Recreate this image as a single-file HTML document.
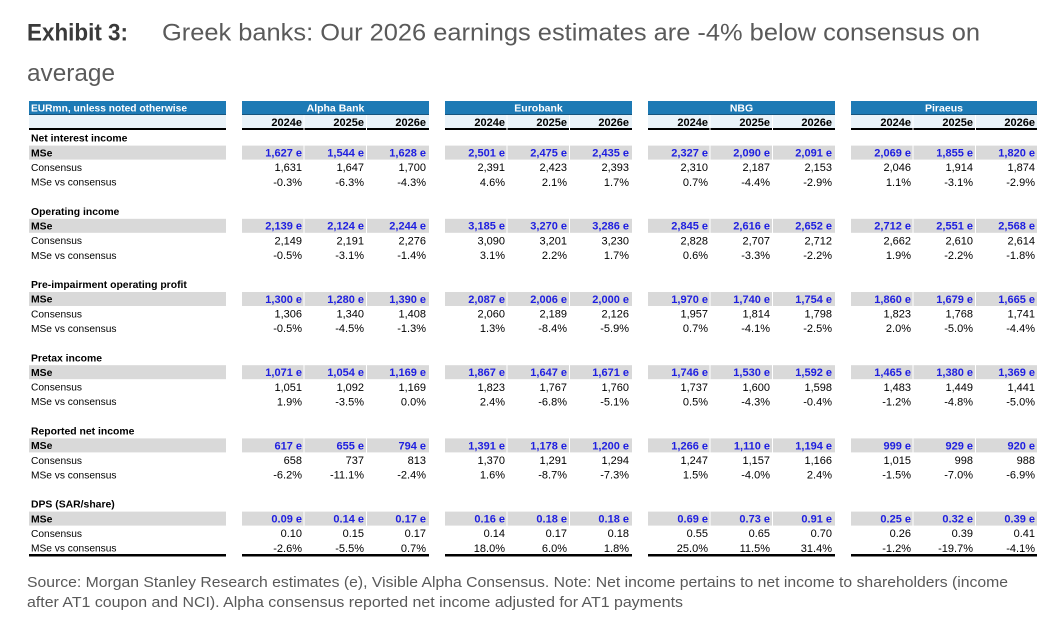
<!DOCTYPE html>
<html>
<head>
<meta charset="utf-8">
<style>
html,body{margin:0;padding:0;background:#fff;}
svg{display:block;}
text{font-family:"Liberation Sans",Arial,sans-serif;}
.t{font-size:10.2px;fill:#000;}
.lb{font-size:10.4px;fill:#000;font-weight:bold;}
.hd{font-size:10.5px;fill:#fff;font-weight:bold;text-anchor:middle;}
.yr{font-size:11px;fill:#000;font-weight:bold;text-anchor:end;}
.ms{font-size:11px;fill:#1e1ee0;font-weight:bold;text-anchor:end;}
.n{font-size:11px;fill:#000;text-anchor:end;}
.g{fill:#d9d9d9;}
.bl{fill:#1d7ab5;}
.dk{fill:#17557e;}
.ly{fill:#eaf3f9;}
.k{fill:#000;}
</style>
</head>
<body>
<svg width="1064" height="639" viewBox="0 0 1064 639" xmlns="http://www.w3.org/2000/svg">
<!-- Title -->
<text x="27" y="40.5" font-size="24" font-weight="bold" fill="#3a3a3a" textLength="101" lengthAdjust="spacingAndGlyphs">Exhibit 3:</text>
<text x="162" y="40.5" font-size="24" fill="#5a5a5a" textLength="818" lengthAdjust="spacingAndGlyphs">Greek banks: Our 2026 earnings estimates are -4% below consensus on</text>
<text x="27" y="81" font-size="24" fill="#5a5a5a" textLength="88" lengthAdjust="spacingAndGlyphs">average</text>

<!-- Left label column -->
<g>
<rect x="29" y="101" width="197" height="13" class="bl"/>
<rect x="29" y="114" width="197" height="1" class="dk"/>
<rect x="29" y="115" width="197" height="13" class="ly"/>
<rect x="29" y="128" width="197" height="2" class="k"/>
<text x="31" y="111.5" font-size="10.5" font-weight="bold" fill="#fff" textLength="156" lengthAdjust="spacingAndGlyphs">EURmn, unless noted otherwise</text>
<rect x="29" y="145.6" width="197" height="14" class="g"/>
<rect x="29" y="218.8" width="197" height="14" class="g"/>
<rect x="29" y="292" width="197" height="14" class="g"/>
<rect x="29" y="365.2" width="197" height="14" class="g"/>
<rect x="29" y="438.4" width="197" height="14" class="g"/>
<rect x="29" y="511.6" width="197" height="14" class="g"/>
<rect x="29" y="554" width="197" height="2.5" class="k"/>

<text x="31" y="141.7" class="lb">Net interest income</text>
<text x="31" y="156.3" class="lb">MSe</text>
<text x="31" y="171" class="t">Consensus</text>
<text x="31" y="185.6" class="t">MSe vs consensus</text>

<text x="31" y="214.9" class="lb">Operating income</text>
<text x="31" y="229.5" class="lb">MSe</text>
<text x="31" y="244.2" class="t">Consensus</text>
<text x="31" y="258.8" class="t">MSe vs consensus</text>

<text x="31" y="288.1" class="lb">Pre-impairment operating profit</text>
<text x="31" y="302.7" class="lb">MSe</text>
<text x="31" y="317.4" class="t">Consensus</text>
<text x="31" y="332" class="t">MSe vs consensus</text>

<text x="31" y="361.3" class="lb">Pretax income</text>
<text x="31" y="375.9" class="lb">MSe</text>
<text x="31" y="390.6" class="t">Consensus</text>
<text x="31" y="405.2" class="t">MSe vs consensus</text>

<text x="31" y="434.5" class="lb">Reported net income</text>
<text x="31" y="449.1" class="lb">MSe</text>
<text x="31" y="463.8" class="t">Consensus</text>
<text x="31" y="478.4" class="t">MSe vs consensus</text>

<text x="31" y="507.7" class="lb">DPS (SAR/share)</text>
<text x="31" y="522.3" class="lb">MSe</text>
<text x="31" y="537" class="t">Consensus</text>
<text x="31" y="551.6" class="t">MSe vs consensus</text>
</g>

<!-- Alpha Bank -->
<g transform="translate(242,0)">
<rect x="0" y="101" width="187" height="13" class="bl"/>
<rect x="0" y="114" width="187" height="1" class="dk"/>
<rect x="0" y="115" width="61.5" height="13" class="ly"/><rect x="62.5" y="115" width="61.5" height="13" class="ly"/><rect x="125" y="115" width="62" height="13" class="ly"/>
<rect x="0" y="128" width="61.5" height="2" class="k"/><rect x="62.5" y="128" width="61.5" height="2" class="k"/><rect x="125" y="128" width="62" height="2" class="k"/>
<text x="93.5" y="111.5" class="hd">Alpha Bank</text>
<text y="125.8" class="yr"><tspan x="60">2024e</tspan><tspan x="122">2025e</tspan><tspan x="184">2026e</tspan></text>
<g class="g">
<rect x="0" y="145.6" width="61.5" height="14"/><rect x="62.5" y="145.6" width="61.5" height="14"/><rect x="125" y="145.6" width="62" height="14"/>
<rect x="0" y="218.8" width="61.5" height="14"/><rect x="62.5" y="218.8" width="61.5" height="14"/><rect x="125" y="218.8" width="62" height="14"/>
<rect x="0" y="292" width="61.5" height="14"/><rect x="62.5" y="292" width="61.5" height="14"/><rect x="125" y="292" width="62" height="14"/>
<rect x="0" y="365.2" width="61.5" height="14"/><rect x="62.5" y="365.2" width="61.5" height="14"/><rect x="125" y="365.2" width="62" height="14"/>
<rect x="0" y="438.4" width="61.5" height="14"/><rect x="62.5" y="438.4" width="61.5" height="14"/><rect x="125" y="438.4" width="62" height="14"/>
<rect x="0" y="511.6" width="61.5" height="14"/><rect x="62.5" y="511.6" width="61.5" height="14"/><rect x="125" y="511.6" width="62" height="14"/>
</g>
<rect x="0" y="554" width="187" height="2.5" class="k"/>
<text y="156.5" class="ms"><tspan x="60">1,627 e</tspan><tspan x="122">1,544 e</tspan><tspan x="184">1,628 e</tspan></text>
<text y="171.2" class="n"><tspan x="60">1,631</tspan><tspan x="122">1,647</tspan><tspan x="184">1,700</tspan></text>
<text y="185.8" class="n"><tspan x="60">-0.3%</tspan><tspan x="122">-6.3%</tspan><tspan x="184">-4.3%</tspan></text>
<text y="229.7" class="ms"><tspan x="60">2,139 e</tspan><tspan x="122">2,124 e</tspan><tspan x="184">2,244 e</tspan></text>
<text y="244.4" class="n"><tspan x="60">2,149</tspan><tspan x="122">2,191</tspan><tspan x="184">2,276</tspan></text>
<text y="259" class="n"><tspan x="60">-0.5%</tspan><tspan x="122">-3.1%</tspan><tspan x="184">-1.4%</tspan></text>
<text y="302.9" class="ms"><tspan x="60">1,300 e</tspan><tspan x="122">1,280 e</tspan><tspan x="184">1,390 e</tspan></text>
<text y="317.6" class="n"><tspan x="60">1,306</tspan><tspan x="122">1,340</tspan><tspan x="184">1,408</tspan></text>
<text y="332.2" class="n"><tspan x="60">-0.5%</tspan><tspan x="122">-4.5%</tspan><tspan x="184">-1.3%</tspan></text>
<text y="376.1" class="ms"><tspan x="60">1,071 e</tspan><tspan x="122">1,054 e</tspan><tspan x="184">1,169 e</tspan></text>
<text y="390.8" class="n"><tspan x="60">1,051</tspan><tspan x="122">1,092</tspan><tspan x="184">1,169</tspan></text>
<text y="405.4" class="n"><tspan x="60">1.9%</tspan><tspan x="122">-3.5%</tspan><tspan x="184">0.0%</tspan></text>
<text y="449.3" class="ms"><tspan x="60">617 e</tspan><tspan x="122">655 e</tspan><tspan x="184">794 e</tspan></text>
<text y="464" class="n"><tspan x="60">658</tspan><tspan x="122">737</tspan><tspan x="184">813</tspan></text>
<text y="478.6" class="n"><tspan x="60">-6.2%</tspan><tspan x="122">-11.1%</tspan><tspan x="184">-2.4%</tspan></text>
<text y="522.5" class="ms"><tspan x="60">0.09 e</tspan><tspan x="122">0.14 e</tspan><tspan x="184">0.17 e</tspan></text>
<text y="537.2" class="n"><tspan x="60">0.10</tspan><tspan x="122">0.15</tspan><tspan x="184">0.17</tspan></text>
<text y="551.8" class="n"><tspan x="60">-2.6%</tspan><tspan x="122">-5.5%</tspan><tspan x="184">0.7%</tspan></text>
</g>

<!-- Eurobank -->
<g transform="translate(445,0)">
<rect x="0" y="101" width="187" height="13" class="bl"/>
<rect x="0" y="114" width="187" height="1" class="dk"/>
<rect x="0" y="115" width="61.5" height="13" class="ly"/><rect x="62.5" y="115" width="61.5" height="13" class="ly"/><rect x="125" y="115" width="62" height="13" class="ly"/>
<rect x="0" y="128" width="61.5" height="2" class="k"/><rect x="62.5" y="128" width="61.5" height="2" class="k"/><rect x="125" y="128" width="62" height="2" class="k"/>
<text x="93.5" y="111.5" class="hd">Eurobank</text>
<text y="125.8" class="yr"><tspan x="60">2024e</tspan><tspan x="122">2025e</tspan><tspan x="184">2026e</tspan></text>
<g class="g">
<rect x="0" y="145.6" width="61.5" height="14"/><rect x="62.5" y="145.6" width="61.5" height="14"/><rect x="125" y="145.6" width="62" height="14"/>
<rect x="0" y="218.8" width="61.5" height="14"/><rect x="62.5" y="218.8" width="61.5" height="14"/><rect x="125" y="218.8" width="62" height="14"/>
<rect x="0" y="292" width="61.5" height="14"/><rect x="62.5" y="292" width="61.5" height="14"/><rect x="125" y="292" width="62" height="14"/>
<rect x="0" y="365.2" width="61.5" height="14"/><rect x="62.5" y="365.2" width="61.5" height="14"/><rect x="125" y="365.2" width="62" height="14"/>
<rect x="0" y="438.4" width="61.5" height="14"/><rect x="62.5" y="438.4" width="61.5" height="14"/><rect x="125" y="438.4" width="62" height="14"/>
<rect x="0" y="511.6" width="61.5" height="14"/><rect x="62.5" y="511.6" width="61.5" height="14"/><rect x="125" y="511.6" width="62" height="14"/>
</g>
<rect x="0" y="554" width="187" height="2.5" class="k"/>
<text y="156.5" class="ms"><tspan x="60">2,501 e</tspan><tspan x="122">2,475 e</tspan><tspan x="184">2,435 e</tspan></text>
<text y="171.2" class="n"><tspan x="60">2,391</tspan><tspan x="122">2,423</tspan><tspan x="184">2,393</tspan></text>
<text y="185.8" class="n"><tspan x="60">4.6%</tspan><tspan x="122">2.1%</tspan><tspan x="184">1.7%</tspan></text>
<text y="229.7" class="ms"><tspan x="60">3,185 e</tspan><tspan x="122">3,270 e</tspan><tspan x="184">3,286 e</tspan></text>
<text y="244.4" class="n"><tspan x="60">3,090</tspan><tspan x="122">3,201</tspan><tspan x="184">3,230</tspan></text>
<text y="259" class="n"><tspan x="60">3.1%</tspan><tspan x="122">2.2%</tspan><tspan x="184">1.7%</tspan></text>
<text y="302.9" class="ms"><tspan x="60">2,087 e</tspan><tspan x="122">2,006 e</tspan><tspan x="184">2,000 e</tspan></text>
<text y="317.6" class="n"><tspan x="60">2,060</tspan><tspan x="122">2,189</tspan><tspan x="184">2,126</tspan></text>
<text y="332.2" class="n"><tspan x="60">1.3%</tspan><tspan x="122">-8.4%</tspan><tspan x="184">-5.9%</tspan></text>
<text y="376.1" class="ms"><tspan x="60">1,867 e</tspan><tspan x="122">1,647 e</tspan><tspan x="184">1,671 e</tspan></text>
<text y="390.8" class="n"><tspan x="60">1,823</tspan><tspan x="122">1,767</tspan><tspan x="184">1,760</tspan></text>
<text y="405.4" class="n"><tspan x="60">2.4%</tspan><tspan x="122">-6.8%</tspan><tspan x="184">-5.1%</tspan></text>
<text y="449.3" class="ms"><tspan x="60">1,391 e</tspan><tspan x="122">1,178 e</tspan><tspan x="184">1,200 e</tspan></text>
<text y="464" class="n"><tspan x="60">1,370</tspan><tspan x="122">1,291</tspan><tspan x="184">1,294</tspan></text>
<text y="478.6" class="n"><tspan x="60">1.6%</tspan><tspan x="122">-8.7%</tspan><tspan x="184">-7.3%</tspan></text>
<text y="522.5" class="ms"><tspan x="60">0.16 e</tspan><tspan x="122">0.18 e</tspan><tspan x="184">0.18 e</tspan></text>
<text y="537.2" class="n"><tspan x="60">0.14</tspan><tspan x="122">0.17</tspan><tspan x="184">0.18</tspan></text>
<text y="551.8" class="n"><tspan x="60">18.0%</tspan><tspan x="122">6.0%</tspan><tspan x="184">1.8%</tspan></text>
</g>

<!-- NBG -->
<g transform="translate(648,0)">
<rect x="0" y="101" width="187" height="13" class="bl"/>
<rect x="0" y="114" width="187" height="1" class="dk"/>
<rect x="0" y="115" width="61.5" height="13" class="ly"/><rect x="62.5" y="115" width="61.5" height="13" class="ly"/><rect x="125" y="115" width="62" height="13" class="ly"/>
<rect x="0" y="128" width="61.5" height="2" class="k"/><rect x="62.5" y="128" width="61.5" height="2" class="k"/><rect x="125" y="128" width="62" height="2" class="k"/>
<text x="93.5" y="111.5" class="hd">NBG</text>
<text y="125.8" class="yr"><tspan x="60">2024e</tspan><tspan x="122">2025e</tspan><tspan x="184">2026e</tspan></text>
<g class="g">
<rect x="0" y="145.6" width="61.5" height="14"/><rect x="62.5" y="145.6" width="61.5" height="14"/><rect x="125" y="145.6" width="62" height="14"/>
<rect x="0" y="218.8" width="61.5" height="14"/><rect x="62.5" y="218.8" width="61.5" height="14"/><rect x="125" y="218.8" width="62" height="14"/>
<rect x="0" y="292" width="61.5" height="14"/><rect x="62.5" y="292" width="61.5" height="14"/><rect x="125" y="292" width="62" height="14"/>
<rect x="0" y="365.2" width="61.5" height="14"/><rect x="62.5" y="365.2" width="61.5" height="14"/><rect x="125" y="365.2" width="62" height="14"/>
<rect x="0" y="438.4" width="61.5" height="14"/><rect x="62.5" y="438.4" width="61.5" height="14"/><rect x="125" y="438.4" width="62" height="14"/>
<rect x="0" y="511.6" width="61.5" height="14"/><rect x="62.5" y="511.6" width="61.5" height="14"/><rect x="125" y="511.6" width="62" height="14"/>
</g>
<rect x="0" y="554" width="187" height="2.5" class="k"/>
<text y="156.5" class="ms"><tspan x="60">2,327 e</tspan><tspan x="122">2,090 e</tspan><tspan x="184">2,091 e</tspan></text>
<text y="171.2" class="n"><tspan x="60">2,310</tspan><tspan x="122">2,187</tspan><tspan x="184">2,153</tspan></text>
<text y="185.8" class="n"><tspan x="60">0.7%</tspan><tspan x="122">-4.4%</tspan><tspan x="184">-2.9%</tspan></text>
<text y="229.7" class="ms"><tspan x="60">2,845 e</tspan><tspan x="122">2,616 e</tspan><tspan x="184">2,652 e</tspan></text>
<text y="244.4" class="n"><tspan x="60">2,828</tspan><tspan x="122">2,707</tspan><tspan x="184">2,712</tspan></text>
<text y="259" class="n"><tspan x="60">0.6%</tspan><tspan x="122">-3.3%</tspan><tspan x="184">-2.2%</tspan></text>
<text y="302.9" class="ms"><tspan x="60">1,970 e</tspan><tspan x="122">1,740 e</tspan><tspan x="184">1,754 e</tspan></text>
<text y="317.6" class="n"><tspan x="60">1,957</tspan><tspan x="122">1,814</tspan><tspan x="184">1,798</tspan></text>
<text y="332.2" class="n"><tspan x="60">0.7%</tspan><tspan x="122">-4.1%</tspan><tspan x="184">-2.5%</tspan></text>
<text y="376.1" class="ms"><tspan x="60">1,746 e</tspan><tspan x="122">1,530 e</tspan><tspan x="184">1,592 e</tspan></text>
<text y="390.8" class="n"><tspan x="60">1,737</tspan><tspan x="122">1,600</tspan><tspan x="184">1,598</tspan></text>
<text y="405.4" class="n"><tspan x="60">0.5%</tspan><tspan x="122">-4.3%</tspan><tspan x="184">-0.4%</tspan></text>
<text y="449.3" class="ms"><tspan x="60">1,266 e</tspan><tspan x="122">1,110 e</tspan><tspan x="184">1,194 e</tspan></text>
<text y="464" class="n"><tspan x="60">1,247</tspan><tspan x="122">1,157</tspan><tspan x="184">1,166</tspan></text>
<text y="478.6" class="n"><tspan x="60">1.5%</tspan><tspan x="122">-4.0%</tspan><tspan x="184">2.4%</tspan></text>
<text y="522.5" class="ms"><tspan x="60">0.69 e</tspan><tspan x="122">0.73 e</tspan><tspan x="184">0.91 e</tspan></text>
<text y="537.2" class="n"><tspan x="60">0.55</tspan><tspan x="122">0.65</tspan><tspan x="184">0.70</tspan></text>
<text y="551.8" class="n"><tspan x="60">25.0%</tspan><tspan x="122">11.5%</tspan><tspan x="184">31.4%</tspan></text>
</g>

<!-- Piraeus -->
<g transform="translate(851,0)">
<rect x="0" y="101" width="186" height="13" class="bl"/>
<rect x="0" y="114" width="186" height="1" class="dk"/>
<rect x="0" y="115" width="61.5" height="13" class="ly"/><rect x="62.5" y="115" width="61.5" height="13" class="ly"/><rect x="125" y="115" width="61" height="13" class="ly"/>
<rect x="0" y="128" width="61.5" height="2" class="k"/><rect x="62.5" y="128" width="61.5" height="2" class="k"/><rect x="125" y="128" width="61" height="2" class="k"/>
<text x="93" y="111.5" class="hd">Piraeus</text>
<text y="125.8" class="yr"><tspan x="60">2024e</tspan><tspan x="122">2025e</tspan><tspan x="184">2026e</tspan></text>
<g class="g">
<rect x="0" y="145.6" width="61.5" height="14"/><rect x="62.5" y="145.6" width="61.5" height="14"/><rect x="125" y="145.6" width="61" height="14"/>
<rect x="0" y="218.8" width="61.5" height="14"/><rect x="62.5" y="218.8" width="61.5" height="14"/><rect x="125" y="218.8" width="61" height="14"/>
<rect x="0" y="292" width="61.5" height="14"/><rect x="62.5" y="292" width="61.5" height="14"/><rect x="125" y="292" width="61" height="14"/>
<rect x="0" y="365.2" width="61.5" height="14"/><rect x="62.5" y="365.2" width="61.5" height="14"/><rect x="125" y="365.2" width="61" height="14"/>
<rect x="0" y="438.4" width="61.5" height="14"/><rect x="62.5" y="438.4" width="61.5" height="14"/><rect x="125" y="438.4" width="61" height="14"/>
<rect x="0" y="511.6" width="61.5" height="14"/><rect x="62.5" y="511.6" width="61.5" height="14"/><rect x="125" y="511.6" width="61" height="14"/>
</g>
<rect x="0" y="554" width="186" height="2.5" class="k"/>
<text y="156.5" class="ms"><tspan x="60">2,069 e</tspan><tspan x="122">1,855 e</tspan><tspan x="184">1,820 e</tspan></text>
<text y="171.2" class="n"><tspan x="60">2,046</tspan><tspan x="122">1,914</tspan><tspan x="184">1,874</tspan></text>
<text y="185.8" class="n"><tspan x="60">1.1%</tspan><tspan x="122">-3.1%</tspan><tspan x="184">-2.9%</tspan></text>
<text y="229.7" class="ms"><tspan x="60">2,712 e</tspan><tspan x="122">2,551 e</tspan><tspan x="184">2,568 e</tspan></text>
<text y="244.4" class="n"><tspan x="60">2,662</tspan><tspan x="122">2,610</tspan><tspan x="184">2,614</tspan></text>
<text y="259" class="n"><tspan x="60">1.9%</tspan><tspan x="122">-2.2%</tspan><tspan x="184">-1.8%</tspan></text>
<text y="302.9" class="ms"><tspan x="60">1,860 e</tspan><tspan x="122">1,679 e</tspan><tspan x="184">1,665 e</tspan></text>
<text y="317.6" class="n"><tspan x="60">1,823</tspan><tspan x="122">1,768</tspan><tspan x="184">1,741</tspan></text>
<text y="332.2" class="n"><tspan x="60">2.0%</tspan><tspan x="122">-5.0%</tspan><tspan x="184">-4.4%</tspan></text>
<text y="376.1" class="ms"><tspan x="60">1,465 e</tspan><tspan x="122">1,380 e</tspan><tspan x="184">1,369 e</tspan></text>
<text y="390.8" class="n"><tspan x="60">1,483</tspan><tspan x="122">1,449</tspan><tspan x="184">1,441</tspan></text>
<text y="405.4" class="n"><tspan x="60">-1.2%</tspan><tspan x="122">-4.8%</tspan><tspan x="184">-5.0%</tspan></text>
<text y="449.3" class="ms"><tspan x="60">999 e</tspan><tspan x="122">929 e</tspan><tspan x="184">920 e</tspan></text>
<text y="464" class="n"><tspan x="60">1,015</tspan><tspan x="122">998</tspan><tspan x="184">988</tspan></text>
<text y="478.6" class="n"><tspan x="60">-1.5%</tspan><tspan x="122">-7.0%</tspan><tspan x="184">-6.9%</tspan></text>
<text y="522.5" class="ms"><tspan x="60">0.25 e</tspan><tspan x="122">0.32 e</tspan><tspan x="184">0.39 e</tspan></text>
<text y="537.2" class="n"><tspan x="60">0.26</tspan><tspan x="122">0.39</tspan><tspan x="184">0.41</tspan></text>
<text y="551.8" class="n"><tspan x="60">-1.2%</tspan><tspan x="122">-19.7%</tspan><tspan x="184">-4.1%</tspan></text>
</g>

<!-- Footnote -->
<text x="27" y="587" font-size="15" fill="#595959" textLength="981" lengthAdjust="spacingAndGlyphs">Source: Morgan Stanley Research estimates (e), Visible Alpha Consensus. Note: Net income pertains to net income to shareholders (income</text>
<text x="27" y="607" font-size="15" fill="#595959" textLength="656" lengthAdjust="spacingAndGlyphs">after AT1 coupon and NCI). Alpha consensus reported net income adjusted for AT1 payments</text>
</svg>
</body>
</html>
